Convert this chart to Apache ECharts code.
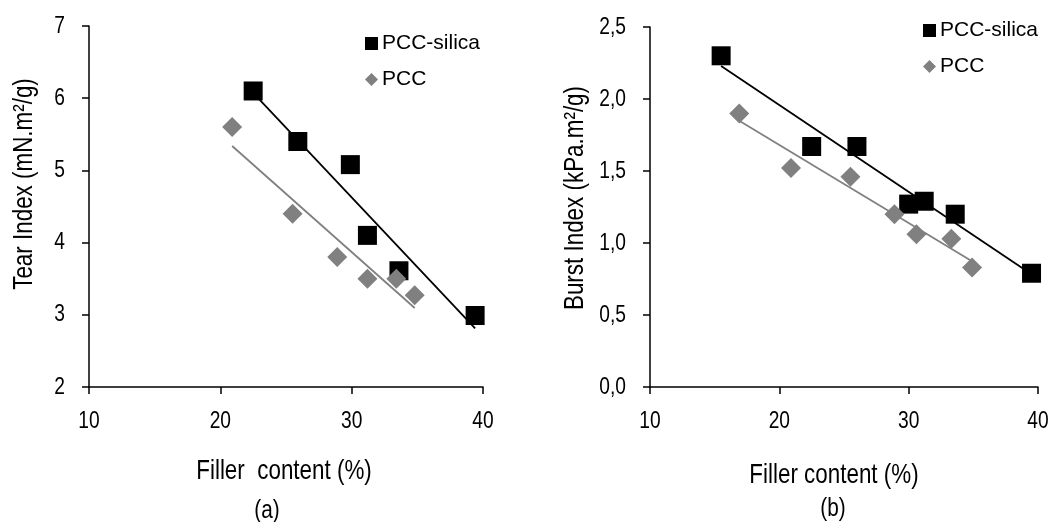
<!DOCTYPE html>
<html>
<head>
<meta charset="utf-8">
<script src="https://cdn.jsdelivr.net/npm/echarts@6/dist/echarts.min.js"></script>
<style>
  html, body { margin: 0; padding: 0; background: #fff; }
  #chart { width: 1061px; height: 522px; }
</style>
</head>
<body>
<div id="chart"></div>
<script>
// (a) tear index
const tearSilicaX = [22.5, 25.9, 29.9, 31.2, 33.6, 39.4];
const tearSilicaY = [6.1, 5.4, 5.08, 4.1, 3.61, 2.99];
const tearPccX = [20.9, 25.5, 28.9, 31.2, 33.4, 34.8];
const tearPccY = [5.6, 4.4, 3.8, 3.5, 3.5, 3.27];

// (b) burst index
const burstSilicaX = [15.5, 22.5, 26.0, 30.0, 31.2, 33.6, 39.5];
const burstSilicaY = [2.3, 1.67, 1.67, 1.27, 1.29, 1.2, 0.79];
const burstPccX = [16.9, 20.9, 25.5, 28.9, 30.6, 33.3, 34.9];
const burstPccY = [1.9, 1.52, 1.46, 1.2, 1.06, 1.03, 0.83];

// tick labels
const fillerTicks = [10, 20, 30, 40];
const tearTicks = [2, 3, 4, 5, 6, 7];
const burstTicks = [0, 0.5, 1, 1.5, 2, 2.5];

const seriesNames = ["PCC-silica", "PCC"];

const FONT = "'Liberation Sans', Arial, sans-serif";
const GRAY = "#808080";
const NARROW = 0.8; // the original uses a narrow face

const pairs = (xs, ys) => xs.map((x, i) => [x, ys[i]]);

// least squares trend line, drawn between the smallest and largest x
function trend(xs, ys) {
  const n = xs.length;
  const mx = xs.reduce((a, b) => a + b, 0) / n;
  const my = ys.reduce((a, b) => a + b, 0) / n;
  let sxy = 0, sxx = 0;
  xs.forEach((x, i) => {
    sxy += (x - mx) * (ys[i] - my);
    sxx += (x - mx) * (x - mx);
  });
  const k = sxy / sxx;
  const x0 = Math.min(...xs), x1 = Math.max(...xs);
  return [[x0, my + k * (x0 - mx)], [x1, my + k * (x1 - mx)]];
}

const axisCommon = {
  axisLine: { onZero: false, lineStyle: { color: "#000", width: 1.5 } },
  axisTick: { inside: false, length: 7, lineStyle: { color: "#000", width: 1.5 } },
  splitLine: { show: false },
  axisLabel: { show: false },
};

const xAxisOpt = (gridIndex) => ({
  ...axisCommon,
  type: "value",
  gridIndex,
  min: fillerTicks[0],
  max: fillerTicks[fillerTicks.length - 1],
  interval: 10,
});

const yAxisOpt = (gridIndex, ticks, interval) => ({
  ...axisCommon,
  type: "value",
  gridIndex,
  min: ticks[0],
  max: ticks[ticks.length - 1],
  interval,
});

const legendOpt = (left, top) => ({
  data: [
    { name: seriesNames[0], icon: "rect", itemStyle: { color: "#000" } },
    { name: seriesNames[1], icon: "diamond", itemStyle: { color: GRAY } },
  ],
  orient: "vertical",
  left,
  top,
  itemWidth: 13,
  itemHeight: 13,
  itemGap: 15,
  textStyle: { color: "#000", fontFamily: FONT, fontSize: 21, padding: [0, 0, 0, -1] },
  selectedMode: false,
});

const scatter = (name, data, idx, symbol, color, size, z) => ({
  name,
  type: "scatter",
  xAxisIndex: idx,
  yAxisIndex: idx,
  data,
  symbol,
  symbolSize: size,
  itemStyle: { color, opacity: 1 },
  z,
});

const trendLine = (data, idx, color) => ({
  name: "trend",
  type: "line",
  xAxisIndex: idx,
  yAxisIndex: idx,
  data,
  symbol: "none",
  lineStyle: { color, width: 1.8 },
  z: 1,
});

// text squeezed along its own direction to look like the narrow face
const textEl = (text, x, y, opts) => ({
  type: "text",
  x,
  y,
  rotation: opts.rotation || 0,
  scaleX: NARROW,
  style: {
    text,
    fill: "#000",
    font: opts.size + "px " + FONT,
    align: opts.align || "center",
    verticalAlign: "middle",
  },
});

const chart = echarts.init(document.getElementById("chart"));
chart.setOption({
  animation: false,
  grid: [
    { left: 89, top: 26, width: 394, height: 361 },
    { left: 650, top: 27, width: 388, height: 360 },
  ],
  legend: [legendOpt(360, 28), legendOpt(918, 15)],
  xAxis: [xAxisOpt(0), xAxisOpt(1)],
  yAxis: [yAxisOpt(0, tearTicks, 1), yAxisOpt(1, burstTicks, 0.5)],
  series: [
    trendLine(trend(tearSilicaX, tearSilicaY), 0, "#000"),
    trendLine(trend(tearPccX, tearPccY), 0, GRAY),
    scatter(seriesNames[0], pairs(tearSilicaX, tearSilicaY), 0, "rect", "#000", 19, 3),
    scatter(seriesNames[1], pairs(tearPccX, tearPccY), 0, "diamond", GRAY, 20, 4),

    trendLine(trend(burstSilicaX, burstSilicaY), 1, "#000"),
    trendLine(trend(burstPccX, burstPccY), 1, GRAY),
    scatter(seriesNames[0], pairs(burstSilicaX, burstSilicaY), 1, "rect", "#000", 19, 3),
    scatter(seriesNames[1], pairs(burstPccX, burstPccY), 1, "diamond", GRAY, 20, 4),
  ],
});

// tick labels placed through the axes' own scales
function tickLabels(gridIndex, yTicks, fmt) {
  const out = [];
  const y0 = yTicks[0];
  const x0 = fillerTicks[0];
  fillerTicks.forEach((v) => {
    const [px, py] = chart.convertToPixel({ gridIndex }, [v, y0]);
    out.push(textEl(String(v), px, py + 34, { size: 24 }));
  });
  yTicks.forEach((v) => {
    const [px, py] = chart.convertToPixel({ gridIndex }, [x0, v]);
    out.push(textEl(fmt(v), px - 24, py, { size: 24, align: "right" }));
  });
  return out;
}

chart.setOption({
  graphic: [
    ...tickLabels(0, tearTicks, (v) => String(v)),
    ...tickLabels(1, burstTicks, (v) => v.toFixed(1).replace(".", ",")),
    textEl("Tear Index (mN.m²/g)", 24, 184, { rotation: Math.PI / 2, size: 28 }),
    textEl("Filler  content (%)", 284, 471, { size: 28 }),
    textEl("(a)", 267, 511, { size: 26 }),
    textEl("Burst Index (kPa.m²/g)", 575, 198, { rotation: Math.PI / 2, size: 28 }),
    textEl("Filler content (%)", 834, 475, { size: 28 }),
    textEl("(b)", 833, 509, { size: 26 }),
  ],
});

window.addEventListener("resize", () => chart.resize());
</script>
</body>
</html>
